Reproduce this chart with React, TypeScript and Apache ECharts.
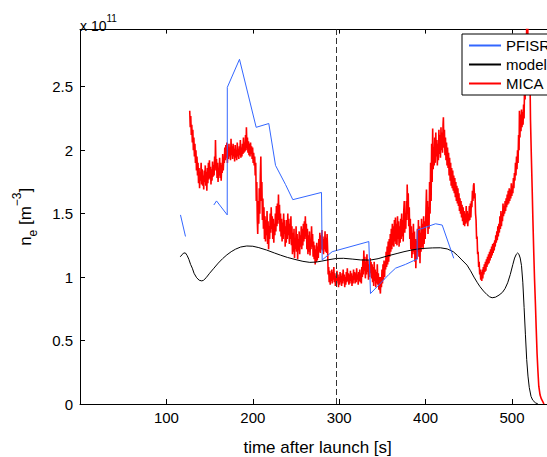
import React, { useEffect, useRef } from 'react';
import * as echarts from 'echarts';

const FONT = 'Liberation Sans, Arial, Helvetica, sans-serif';

const X_MIN = 0;
const X_MAX = 550;
const X_STEP = 100;
const Y_MIN = 0;
const Y_MAX = 2.95;
const Y_STEP = 0.5;
const LAUNCH_MARK = 297;

const xTickLabels = [100, 200, 300, 400, 500];
const yTickLabels = [0, 0.5, 1, 1.5, 2, 2.5];
const legendNames = ['PFISR', 'model', 'MICA'];

// PFISR electron density [1e11 m^-3] vs time after launch [s]; '-' breaks the line
const pfisr: (number | string)[][] = [
  [116.3, 1.49], [122.1, 1.32], [124, '-'],
  [154.9, 1.568], [158, 1.6], [170.4, 1.49], [170.5, 2.495], [184.6, 2.716],
  [203.9, 2.18], [218.5, 2.21], [226.3, 1.88], [237.8, 1.73], [246.3, 1.61],
  [279.5, 1.667], [280.3, 1.135], [291.9, 1.2], [334.3, 1.28], [336.2, 0.87],
  [357.4, 1.02], [365.2, 1.07], [376.7, 1.1], [386.3, 1.13], [390.2, 1.14],
  [390.3, 1.37], [411.5, 1.42], [419.2, 1.41], [432.6, 1.148],
];

// model electron density
const model: number[][] = [
  [116, 1.16], [118, 1.175], [120, 1.19], [122, 1.19], [124, 1.17], [126, 1.14],
  [128, 1.1], [130, 1.07], [132, 1.03], [135, 0.995], [138, 0.975], [141, 0.97],
  [143, 0.975], [146, 0.995], [150, 1.03], [155, 1.07], [160, 1.11], [165, 1.145],
  [170, 1.175], [175, 1.2], [180, 1.22], [186, 1.237], [193, 1.245], [200, 1.243],
  [207, 1.232], [216, 1.213], [225, 1.19], [232, 1.173], [240, 1.155], [250, 1.137],
  [258, 1.124], [266, 1.116], [273, 1.118], [280, 1.126], [288, 1.137], [297, 1.147],
  [305, 1.148], [315, 1.142], [325, 1.135], [336, 1.134], [345, 1.145], [355, 1.165],
  [367, 1.186], [375, 1.2], [383, 1.212], [390, 1.22], [398, 1.226], [408, 1.23],
  [417, 1.231], [425, 1.222], [432, 1.2], [437, 1.17], [442, 1.135], [448, 1.094],
  [452, 1.05], [456, 1.0], [460, 0.955], [463, 0.924], [467, 0.89], [471, 0.862],
  [474, 0.845], [477, 0.837], [481, 0.842], [485, 0.858], [489, 0.88], [492, 0.91],
  [495, 0.955], [498, 1.02], [501, 1.1], [503, 1.15], [505, 1.18], [506.5, 1.19],
  [508, 1.18], [509.5, 1.15], [511, 1.09], [512.5, 0.96], [514, 0.76], [515.5, 0.55],
  [517, 0.35], [518.5, 0.22], [520, 0.13], [522, 0.06], [524, 0.03], [527, 0.01], [530, 0],
];

// MICA rocket probe electron density (noisy)
const mica: number[][] = [
  [127, 2.31], [127.6, 2.18], [128.2, 2.27], [128.8, 2.12], [129.4, 2.2], [130, 2.06], [130.6, 2.16], [131.2, 2.0],
  [131.8, 2.1], [132.4, 1.95], [133, 2.05], [133.6, 1.9], [134.2, 2.0], [134.8, 1.84], [135.4, 1.95], [136, 1.8],
  [136.6, 1.9], [137.2, 1.74], [137.8, 1.86], [138.4, 1.7], [139, 1.83], [139.6, 1.76], [140.2, 1.9], [140.8, 1.73],
  [141.4, 1.85], [142, 1.72], [142.6, 1.8], [143.2, 1.69], [143.8, 1.84], [144.4, 1.75], [145, 1.88], [145.6, 1.72],
  [146.2, 1.83], [146.8, 1.68], [147.4, 1.86], [148, 1.74], [148.6, 1.9], [149.2, 1.77], [149.8, 1.92], [150.4, 1.78],
  [151, 1.87], [151.6, 1.73], [152.2, 1.85], [152.8, 1.76], [153.4, 1.91], [154, 1.79], [154.6, 1.88], [155.2, 1.8],
  [155.8, 1.95], [156.4, 1.84], [156.8, 2.08], [157.4, 1.86], [158, 1.93], [158.6, 1.78], [159.2, 1.9], [159.8, 1.75],
  [160.4, 1.86], [161, 1.8], [161.6, 1.94], [162.2, 1.78], [162.8, 1.9], [163.4, 1.76], [164, 1.88], [164.6, 1.82],
  [165.2, 1.97], [165.8, 1.84], [166.4, 1.93], [167, 1.9], [167.6, 2.02], [168.2, 1.92], [168.8, 2.04], [169.4, 1.94],
  [170, 2.06], [170.6, 1.9], [171.2, 2.0], [171.8, 1.93], [172.4, 2.05], [173, 1.95], [173.6, 2.02], [174.2, 1.92],
  [174.8, 2.09], [175.4, 1.96], [176, 2.03], [176.6, 1.93], [177.2, 2.05], [177.8, 1.95], [178.4, 2.01], [179, 1.91],
  [179.6, 2.04], [180.2, 1.94], [180.8, 2.0], [181.4, 1.92], [182, 2.06], [182.6, 1.95], [183.2, 2.01], [183.8, 1.93],
  [184.4, 2.03], [185, 1.96], [185.6, 2.08], [186.2, 1.94], [186.8, 2.02], [187.4, 1.95], [188, 2.05], [188.6, 1.97],
  [189.2, 2.1], [189.8, 1.98], [190.4, 2.06], [191, 1.99], [191.6, 2.12], [192.2, 2.0], [192.6, 2.18], [193.2, 2.02],
  [193.8, 2.1], [194.4, 1.98], [195, 2.07], [195.6, 1.96], [196.2, 2.05], [196.8, 1.95], [197.4, 2.06], [198, 1.97],
  [198.6, 2.03], [199.2, 1.93], [199.8, 2.02], [200.4, 1.9], [201, 1.98], [201.6, 1.88], [202.2, 1.95], [202.8, 1.8],
  [203.4, 1.9], [204, 1.6], [204.6, 1.75], [205.2, 1.45], [205.7, 1.34], [206.3, 1.6], [206.9, 1.42], [207.5, 1.7],
  [208.1, 1.5], [208.7, 1.8], [209.3, 1.95], [209.9, 1.6], [210.5, 1.75], [211.1, 1.45], [211.7, 1.62], [212.3, 1.38],
  [212.9, 1.55], [213.5, 1.3], [214.1, 1.48], [214.7, 1.28], [215.3, 1.45], [215.9, 1.33], [216.5, 1.52], [217.1, 1.26],
  [217.7, 1.44], [218.3, 1.22], [218.9, 1.4], [219.5, 1.3], [220.1, 1.5], [220.7, 1.35], [221.3, 1.55], [221.9, 1.38],
  [222.5, 1.48], [223.1, 1.3], [223.7, 1.46], [224.3, 1.27], [224.9, 1.42], [225.5, 1.33], [226.1, 1.5], [226.7, 1.36],
  [227.3, 1.56], [227.9, 1.4], [228.5, 1.58], [229.1, 1.42], [229.7, 1.65], [230.3, 1.45], [230.9, 1.57], [231.5, 1.36],
  [232.1, 1.5], [232.7, 1.32], [233.3, 1.46], [233.9, 1.28], [234.5, 1.43], [235.1, 1.3], [235.7, 1.5], [236.3, 1.34],
  [236.9, 1.45], [237.5, 1.24], [238.1, 1.4], [238.7, 1.27], [239.3, 1.45], [239.9, 1.3], [240.5, 1.5], [241.1, 1.33],
  [241.7, 1.46], [242.3, 1.26], [242.9, 1.42], [243.5, 1.3], [244.1, 1.48], [244.7, 1.25], [245.3, 1.4], [245.9, 1.18],
  [246.5, 1.35], [247.1, 1.2], [247.7, 1.38], [248.3, 1.15], [248.9, 1.3], [249.5, 1.22], [250.1, 1.4], [250.7, 1.2],
  [251.3, 1.34], [251.9, 1.14], [252.5, 1.3], [253.1, 1.21], [253.7, 1.36], [254.3, 1.18], [254.9, 1.33], [255.5, 1.24],
  [256.1, 1.4], [256.7, 1.22], [257.3, 1.38], [257.9, 1.25], [258.5, 1.42], [259.1, 1.28], [259.7, 1.44], [260.3, 1.3],
  [260.8, 1.48], [261.4, 1.32], [262, 1.42], [262.6, 1.22], [263.2, 1.38], [263.8, 1.18], [264.4, 1.33], [265, 1.2],
  [265.6, 1.36], [266.2, 1.17], [266.8, 1.3], [267.4, 1.22], [268, 1.4], [268.6, 1.24], [269.2, 1.34], [269.8, 1.16],
  [270.4, 1.28], [271, 1.14], [271.6, 1.25], [272.2, 1.1], [272.8, 1.22], [273.4, 1.12], [274, 1.27], [274.6, 1.13],
  [275.2, 1.24], [275.8, 1.15], [276.4, 1.3], [277, 1.2], [277.6, 1.35], [278.2, 1.19], [278.8, 1.33], [279.4, 1.22],
  [280, 1.37], [280.6, 1.21], [281.2, 1.32], [281.8, 1.18], [282.4, 1.3], [283, 1.22], [283.6, 1.36], [284.2, 1.2],
  [284.8, 1.31], [285.4, 1.19], [286, 1.34], [286.6, 1.22], [287.2, 1.02], [287.8, 1.08], [288.4, 0.96], [289, 1.05],
  [289.6, 0.94], [290.2, 1.03], [290.8, 0.97], [291.4, 1.06], [292, 0.95], [292.6, 1.04], [293.2, 0.98], [293.8, 1.08],
  [294.4, 0.96], [295, 1.03], [295.6, 0.93], [296.2, 1.01], [296.8, 0.95], [297.4, 1.05], [298, 0.97], [298.6, 1.02],
  [299.2, 0.92], [299.8, 1.0], [300.4, 0.94], [301, 1.04], [301.6, 0.96], [302.2, 1.01], [302.8, 0.93], [303.4, 1.03],
  [304, 0.95], [304.6, 1.06], [305.2, 0.97], [305.8, 1.02], [306.4, 0.92], [307, 1.0], [307.6, 0.94], [308.2, 1.04],
  [308.8, 0.96], [309.4, 1.07], [310, 0.97], [310.6, 1.03], [311.2, 0.94], [311.8, 1.02], [312.4, 0.95], [313, 1.05],
  [313.6, 0.97], [314.2, 1.03], [314.8, 0.93], [315.4, 1.01], [316, 0.95], [316.6, 1.06], [317.2, 0.98], [317.8, 1.04],
  [318.4, 0.95], [319, 1.03], [319.6, 0.96], [320.2, 1.07], [320.8, 0.98], [321.4, 1.02], [322, 0.94], [322.6, 1.04],
  [323.2, 0.97], [323.8, 1.06], [324.4, 0.96], [325, 1.03], [325.6, 0.95], [326.2, 1.08], [326.8, 1.0], [327.4, 1.14],
  [328, 1.02], [328.5, 1.21], [329.1, 1.05], [329.7, 1.16], [330.3, 0.99], [330.9, 1.12], [331.5, 1.02], [332.1, 1.18],
  [332.7, 1.04], [333.3, 1.13], [333.9, 0.98], [334.5, 1.1], [335.1, 1.0], [335.7, 1.15], [336.3, 1.03], [336.9, 1.12],
  [337.5, 0.99], [338.1, 1.1], [338.7, 0.96], [339.3, 1.08], [339.9, 0.93], [340.5, 1.12], [341.1, 0.97], [341.7, 1.06],
  [342.3, 0.92], [342.9, 1.04], [343.5, 0.95], [344.1, 1.1], [344.7, 0.94], [345.3, 1.03], [345.9, 0.9], [346.5, 1.0],
  [347.1, 0.91], [347.7, 0.87], [348.3, 1.0], [348.9, 0.92], [349.5, 1.06], [350.1, 0.95], [350.7, 1.1], [351.3, 0.98],
  [351.9, 1.13], [352.5, 1.0], [353.1, 1.12], [353.7, 1.06], [354.3, 1.2], [354.9, 1.08], [355.5, 1.24], [356.1, 1.1],
  [356.7, 1.28], [357.3, 1.12], [357.9, 1.3], [358.5, 1.16], [359.1, 1.34], [359.7, 1.2], [360.3, 1.38], [360.9, 1.22],
  [361.5, 1.42], [362.1, 1.25], [362.7, 1.4], [363.3, 1.24], [363.9, 1.45], [364.5, 1.28], [365.1, 1.47], [365.7, 1.26],
  [366.3, 1.42], [366.9, 1.25], [367.5, 1.48], [368.1, 1.3], [368.7, 1.44], [369.3, 1.24], [369.9, 1.4], [370.5, 1.27],
  [371.1, 1.46], [371.7, 1.3], [372.3, 1.5], [372.9, 1.32], [373.5, 1.45], [374.1, 1.28], [374.7, 1.52], [375.3, 1.6],
  [375.9, 1.35], [376.5, 1.5], [377.1, 1.38], [377.7, 1.6], [378.3, 1.45], [378.7, 1.73], [379.3, 1.5], [379.9, 1.66],
  [380.5, 1.4], [381.1, 1.55], [381.7, 1.3], [382.3, 1.46], [382.9, 1.22], [383.5, 1.4], [384.1, 1.15], [384.7, 1.35],
  [385.3, 1.18], [385.9, 1.42], [386.5, 1.2], [387.1, 1.36], [387.7, 1.12], [388.3, 1.3], [388.7, 1.07], [389.3, 1.28],
  [389.9, 1.14], [390.5, 1.38], [391.1, 1.2], [391.7, 1.45], [392.3, 1.16], [392.9, 1.4], [393.5, 1.11], [394.1, 1.35],
  [394.7, 1.2], [395.3, 1.46], [395.9, 1.24], [396.5, 1.42], [397.1, 1.22], [397.7, 1.48], [398.3, 1.26], [398.9, 1.44],
  [399.5, 1.3], [400.4, 1.52], [401, 1.69], [401.6, 1.4], [402.2, 1.6], [402.8, 1.34], [403.4, 1.55], [404, 1.38],
  [404.6, 1.75], [405.2, 1.5], [405.8, 1.9], [406.4, 1.6], [407, 2.05], [407.6, 1.75], [408.2, 2.17], [408.8, 1.85],
  [409.4, 2.02], [410, 1.88], [410.6, 2.1], [411.2, 1.9], [411.8, 2.14], [412.4, 1.95], [413, 2.08], [413.6, 1.88],
  [414.2, 2.05], [414.8, 1.92], [415.4, 2.16], [416, 1.97], [416.6, 2.12], [417.2, 1.94], [417.8, 2.18], [418.4, 2.0],
  [419, 2.14], [419.6, 1.98], [420.2, 2.2], [420.6, 2.26], [421.2, 2.02], [421.8, 2.16], [422.4, 1.96], [423, 2.1],
  [423.6, 1.92], [424.2, 2.06], [424.8, 1.88], [425.4, 2.02], [426, 1.86], [426.6, 1.98], [427.2, 1.8], [427.8, 1.94],
  [428.4, 1.76], [429, 1.9], [429.6, 1.72], [430.2, 1.86], [430.8, 1.7], [431.4, 1.84], [432, 1.68], [432.6, 1.8],
  [433.2, 1.66], [433.8, 1.78], [434.4, 1.63], [435, 1.75], [435.6, 1.6], [436.2, 1.72], [436.8, 1.58], [437.4, 1.7],
  [438, 1.56], [438.6, 1.66], [439.2, 1.52], [439.8, 1.62], [440.4, 1.5], [441, 1.6], [441.6, 1.47], [442.2, 1.57],
  [442.8, 1.44], [443.4, 1.55], [444, 1.41], [444.6, 1.52], [445.2, 1.4], [445.8, 1.5], [446.4, 1.42], [447, 1.56],
  [447.6, 1.43], [448.2, 1.52], [448.8, 1.4], [449.4, 1.5], [450, 1.44], [450.6, 1.56], [451.2, 1.45], [451.8, 1.58],
  [452.4, 1.47], [453, 1.6], [453.6, 1.55], [454.2, 1.68], [454.8, 1.6], [455.4, 1.72], [456, 1.74], [456.6, 1.62],
  [457.2, 1.66], [457.8, 1.5], [458.4, 1.45], [459, 1.3], [459.6, 1.32], [460.2, 1.18], [460.8, 1.2], [461.4, 1.08],
  [462, 1.12], [462.6, 1.02], [463.2, 1.06], [463.8, 0.98], [464.4, 1.04], [465, 0.97], [465.6, 1.06], [466.2, 0.99],
  [466.8, 1.08], [467.4, 1.02], [468, 1.1], [468.6, 1.04], [469.2, 1.12], [469.8, 1.05], [470.4, 1.14], [471, 1.08],
  [471.6, 1.16], [472.2, 1.1], [472.8, 1.18], [473.4, 1.11], [474, 1.2], [474.6, 1.13], [475.2, 1.22], [475.8, 1.15],
  [476.4, 1.24], [477, 1.17], [477.6, 1.26], [478.2, 1.19], [478.8, 1.27], [479.4, 1.21], [480, 1.29], [480.6, 1.24],
  [481.2, 1.33], [481.8, 1.27], [482.4, 1.36], [483, 1.29], [483.6, 1.4], [484.2, 1.32], [484.8, 1.42], [485.4, 1.35],
  [486, 1.48], [486.6, 1.38], [487.2, 1.52], [487.8, 1.4], [488.4, 1.5], [489, 1.44], [489.6, 1.58], [490.2, 1.48],
  [490.8, 1.56], [491.4, 1.5], [492, 1.6], [492.6, 1.52], [493.2, 1.62], [493.8, 1.55], [494.4, 1.65], [495, 1.57],
  [495.6, 1.68], [496.2, 1.58], [496.8, 1.7], [497.4, 1.6], [498, 1.69], [498.6, 1.62], [499.2, 1.74], [499.8, 1.64],
  [500.4, 1.72], [501, 1.66], [501.6, 1.78], [502.2, 1.7], [502.8, 1.82], [503.4, 1.76], [504, 1.9], [504.6, 1.8],
  [505.2, 1.95], [505.8, 1.85], [506.4, 2.0], [507, 1.9], [507.6, 2.12], [508.2, 2.0], [508.6, 2.31], [509.2, 2.1],
  [509.8, 2.28], [510.4, 2.15], [511, 2.32], [511.6, 2.18], [512.2, 2.3], [512.8, 2.2], [513.4, 2.36], [514, 2.25],
  [514.6, 2.55], [515.2, 2.4], [515.8, 2.75], [516.4, 2.6], [517, 3.0], [517.6, 2.7], [518.2, 3.0], [518.8, 2.62],
  [519.4, 2.9], [520, 2.5], [520.6, 2.7], [521.4, 2.24], [522.4, 1.95], [523.3, 1.71], [524.2, 1.45], [525.2, 1.19],
  [526.1, 0.98], [527.1, 0.79], [528, 0.6], [529, 0.4], [530, 0.26], [531, 0.14], [532.5, 0.07], [534, 0.04],
  [535.5, 0.02], [537, 0],
];

const near = (list: number[], v: number) => list.some((t) => Math.abs(t - v) < 1e-6);

export default function App() {
  const ref = useRef<HTMLDivElement>(null);

  useEffect(() => {
    if (!ref.current) return;
    const chart = echarts.init(ref.current, null, { renderer: 'svg' });
    const axisLine = { show: true, lineStyle: { color: '#000', width: 1 } };
    chart.setOption({
      animation: false,
      backgroundColor: '#fff',
      textStyle: { fontFamily: FONT },
      grid: {
        left: 80,
        top: 29.6,
        width: 475.2,
        height: 374.4,
        containLabel: false,
        outerBoundsMode: 'none',
      },
      legend: {
        data: legendNames,
        orient: 'vertical',
        left: 462,
        top: 34,
        itemWidth: 32,
        itemHeight: 14,
        itemGap: 4,
        padding: [4, 10, 4, 6],
        backgroundColor: '#fff',
        borderColor: '#000',
        borderWidth: 1,
        borderRadius: 0,
        selectedMode: false,
        itemStyle: { opacity: 0 },
        textStyle: { fontSize: 15, color: '#000', fontFamily: FONT, lineHeight: 14 },
      },
      graphic: [
        {
          type: 'text',
          left: 80,
          top: 13,
          style: {
            text: '{a|x 10}{b|11}',
            fill: '#000',
            rich: {
              a: { fontSize: 14, lineHeight: 20, verticalAlign: 'bottom', fontFamily: FONT, fill: '#000' },
              b: { fontSize: 10, lineHeight: 10, verticalAlign: 'top', fontFamily: FONT, fill: '#000' },
            },
          },
        },
      ],
      xAxis: [
        {
          type: 'value',
          position: 'bottom',
          min: X_MIN,
          max: X_MAX,
          interval: X_STEP,
          axisLine,
          axisTick: { show: true, inside: true, length: 5, lineStyle: { color: '#000' } },
          splitLine: { show: false },
          axisLabel: {
            color: '#000',
            fontSize: 15,
            fontFamily: FONT,
            margin: 6,
            formatter: (v: number) => (near(xTickLabels, v) ? String(v) : ''),
          },
          name: 'time after launch [s]',
          nameLocation: 'middle',
          nameGap: 35,
          nameTextStyle: { color: '#000', fontSize: 17, fontFamily: FONT },
        },
        {
          type: 'value',
          position: 'top',
          min: X_MIN,
          max: X_MAX,
          interval: X_STEP,
          axisLine,
          axisTick: { show: true, inside: true, length: 4, lineStyle: { color: '#000' } },
          splitLine: { show: false },
          axisLabel: { show: false },
        },
      ],
      yAxis: [
        {
          type: 'value',
          position: 'left',
          min: Y_MIN,
          max: Y_MAX,
          interval: Y_STEP,
          axisLine,
          axisTick: { show: true, inside: true, length: 5, lineStyle: { color: '#000' } },
          splitLine: { show: false },
          axisLabel: {
            color: '#000',
            fontSize: 15,
            fontFamily: FONT,
            margin: 7,
            formatter: (v: number) => (near(yTickLabels, v) ? String(v) : ''),
          },
          name: '{n|n}{e|e}{n| [m}{s|−3}{n|]}',
          nameLocation: 'middle',
          nameRotate: 90,
          nameGap: 41,
          nameTextStyle: {
            color: '#000',
            fontFamily: FONT,
            rich: {
              n: { fontSize: 17, lineHeight: 28, fontFamily: FONT, color: '#000' },
              e: { fontSize: 12, lineHeight: 14, verticalAlign: 'bottom', fontFamily: FONT, color: '#000' },
              s: { fontSize: 12, lineHeight: 14, verticalAlign: 'top', fontFamily: FONT, color: '#000' },
            },
          },
        },
      ],
      series: [
        {
          name: 'MICA',
          type: 'line',
          data: mica,
          symbol: 'none',
          clip: true,
          color: '#ff0000',
          lineStyle: { color: '#ff0000', width: 1.6 },
          z: 2,
        },
        {
          name: 'model',
          type: 'line',
          data: model,
          symbol: 'none',
          clip: true,
          color: '#000',
          lineStyle: { color: '#000', width: 1 },
          z: 3,
          markLine: {
            silent: true,
            symbol: ['none', 'none'],
            label: { show: false },
            lineStyle: { type: [6, 3], color: '#333', width: 1 },
            data: [{ xAxis: LAUNCH_MARK }],
          },
        },
        {
          name: 'PFISR',
          type: 'line',
          data: pfisr,
          symbol: 'none',
          clip: true,
          connectNulls: false,
          color: '#3366ff',
          lineStyle: { color: '#3366ff', width: 1 },
          z: 4,
        },
      ],
    });
    return () => chart.dispose();
  }, []);

  return (
    <div
      ref={ref}
      style={{ position: 'fixed', left: 0, top: 0, width: 547, height: 457, background: '#fff' }}
    />
  );
}
